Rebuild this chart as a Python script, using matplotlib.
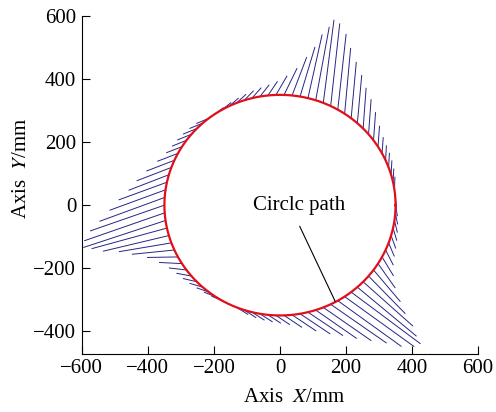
import numpy as np
import matplotlib.pyplot as plt

plt.rcParams['font.family'] = 'Liberation Serif'
plt.rcParams['mathtext.fontset'] = 'stix'
plt.rcParams['font.size'] = 15

# circle path radius (mm)
radius = 350

# tool axis lines: start angle on the circle (deg), length (mm), direction (deg)
top_theta = [8, 12, 16, 20, 24, 28, 32, 36, 40, 44, 48, 52, 56, 60, 64,
             68, 72, 76, 80, 84, 88, 92, 96, 100, 104, 108, 112, 116, 120, 124]
top_len = [40, 42, 44, 45, 46, 50, 65, 88, 110, 128, 152, 178, 208, 240, 262,
           264, 235, 205, 162, 128, 92, 68, 52, 45, 42, 40, 38, 36, 34, 30]
top_dir = [88, 87, 87, 87, 87, 86, 86, 86, 86, 86, 85, 85, 85, 84, 84,
           83, 80, 78, 74, 70, 65, 61, 57, 53, 50, 47, 44, 42, 40, 38]

left_theta = [128, 132, 136, 140, 144, 148, 152, 156, 160, 164, 168, 172, 176, 180, 184,
              188, 192, 196, 200, 204, 208, 212, 216, 220, 224, 228, 232, 236, 240, 244]
left_len = [40, 42, 44, 45, 46, 50, 66, 90, 112, 130, 155, 180, 210, 238, 258,
            262, 236, 204, 160, 128, 92, 68, 52, 45, 42, 40, 38, 36, 34, 30]
left_dir = [204, 203, 203, 203, 203, 202, 202, 202, 202, 202, 201, 201, 201, 200, 200,
            199, 196, 194, 190, 186, 181, 177, 173, 169, 166, 163, 160, 158, 156, 154]

bottom_theta = [248, 252, 256, 260, 264, 268, 272, 276, 280, 284, 288, 292, 296, 300, 304,
                308, 312, 316, 320, 324, 328, 332, 336, 340, 344, 348, 352, 356, 360, 364]
bottom_len = [40, 42, 44, 45, 46, 50, 65, 88, 110, 128, 152, 178, 208, 240, 262,
              265, 236, 205, 162, 128, 92, 68, 52, 45, 42, 40, 38, 36, 34, 30]
bottom_dir = [327, 326, 326, 326, 326, 325, 325, 325, 325, 325, 324, 324, 324, 323, 323,
              322, 319, 317, 313, 309, 304, 300, 296, 292, 289, 286, 283, 281, 279, 277]

fig = plt.figure(figsize=(4.96, 4.12), dpi=100)
ax = fig.add_axes([0.165, 0.141, 0.799, 0.820])

# blue tool axis segments
for thetas, lens, dirs in [(top_theta, top_len, top_dir),
                           (left_theta, left_len, left_dir),
                           (bottom_theta, bottom_len, bottom_dir)]:
    for th, ln, dr in zip(thetas, lens, dirs):
        x0 = radius * np.cos(np.radians(th))
        y0 = radius * np.sin(np.radians(th))
        x1 = x0 + ln * np.cos(np.radians(dr))
        y1 = y0 + ln * np.sin(np.radians(dr))
        ax.plot([x0, x1], [y0, y1], color='#252585', lw=0.7)

# red circle path
t = np.linspace(0, 2 * np.pi, 400)
ax.plot(radius * np.cos(t), radius * np.sin(t), color='#e0101a', lw=1.6)

ax.annotate('Circlc path', xy=(167, -305), xytext=(57, 0),
            ha='center', va='center', fontsize=15,
            arrowprops=dict(arrowstyle='-', color='black', lw=0.8,
                            relpos=(0.45, 0), shrinkA=7, shrinkB=0))

ax.set_xlim(-600, 600)
ax.set_ylim(-472, 600)
ax.set_xticks([-600, -400, -200, 0, 200, 400, 600])
ax.set_yticks([-400, -200, 0, 200, 400, 600])
ax.spines['top'].set_visible(False)
ax.spines['right'].set_visible(False)
ax.tick_params(direction='in', length=6, width=0.8, pad=4)

ax.set_xlabel(r'Axis  $X$/mm')
ax.set_ylabel(r'Axis  $Y$/mm')
ax.xaxis.set_label_coords(0.535, -0.10)
ax.yaxis.set_label_coords(-0.128, 0.55)

fig.savefig('out.png', dpi=100)
